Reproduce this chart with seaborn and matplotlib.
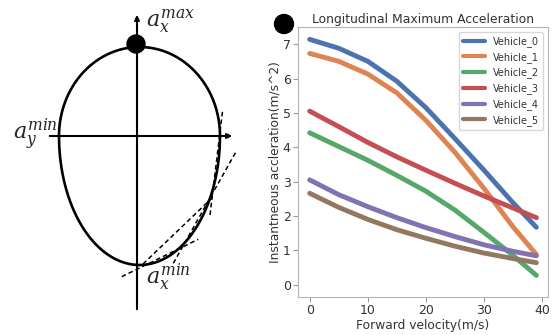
import numpy as np
import pandas as pd
import matplotlib
matplotlib.use("Agg")
import matplotlib.pyplot as plt
from matplotlib.patches import Circle
import seaborn as sns

# values
velocity = [0, 5, 10, 15, 20, 25, 30, 35, 39]
vehicle_0 = [7.14, 6.88, 6.50, 5.92, 5.15, 4.25, 3.33, 2.38, 1.67]
vehicle_1 = [6.73, 6.50, 6.13, 5.58, 4.78, 3.85, 2.80, 1.68, 0.88]
vehicle_2 = [4.42, 4.02, 3.62, 3.18, 2.72, 2.17, 1.52, 0.85, 0.27]
vehicle_3 = [5.05, 4.60, 4.14, 3.72, 3.33, 2.95, 2.58, 2.23, 1.95]
vehicle_4 = [3.05, 2.62, 2.27, 1.95, 1.66, 1.40, 1.16, 0.97, 0.84]
vehicle_5 = [2.66, 2.25, 1.90, 1.60, 1.35, 1.12, 0.92, 0.76, 0.64]
names = ["Vehicle_0", "Vehicle_1", "Vehicle_2", "Vehicle_3", "Vehicle_4", "Vehicle_5"]
series = [vehicle_0, vehicle_1, vehicle_2, vehicle_3, vehicle_4, vehicle_5]

df = pd.concat([pd.DataFrame({"v": velocity, "acc": s, "name": n})
                for n, s in zip(names, series)])

sns.set_theme(style="ticks", palette="deep")
plt.rcParams["font.family"] = ["DejaVu Sans"]
plt.rcParams["mathtext.fontset"] = "dejavuserif"
plt.rcParams["axes.edgecolor"] = "0.7"
plt.rcParams["xtick.color"] = "0.6"
plt.rcParams["ytick.color"] = "0.6"
plt.rcParams["xtick.labelcolor"] = "0.2"
plt.rcParams["ytick.labelcolor"] = "0.2"

fig = plt.figure(figsize=(5.57, 3.35), dpi=100)

# left sketch of the acceleration envelope, in pixel coords
ax0 = fig.add_axes([0, 0, 1, 1])
ax0.set_xlim(0, 557)
ax0.set_ylim(335, 0)
ax0.axis("off")

cx, cy = 137, 136
a, b_top, b_bot = 80.5, 89, 129
t = np.linspace(0, np.pi, 200)
ax0.plot(cx + 2.5 + a * np.cos(t), cy - b_top * np.sin(t), color="black", lw=1.9)
ax0.plot(cx + 2.5 + a * np.cos(t), cy + b_bot * np.sin(t), color="black", lw=1.9)
arrow = dict(arrowstyle="-|>", color="black", lw=1.5, mutation_scale=7)
ax0.annotate("", xy=(cx, 12), xytext=(cx, 312), arrowprops=arrow)
ax0.annotate("", xy=(235, cy), xytext=(47, cy), arrowprops=arrow)
for (x0, y0), (x1, y1) in [((121.7, 276.7), (198.3, 239.3)),
                           ((173.3, 263.3), (236, 151.7)),
                           ((210, 215), (222.7, 110)),
                           ((143, 264), (212, 198))]:
    ax0.plot([x0, x1], [y0, y1], color="black", lw=1.1, ls=(0, (3, 2)))
ax0.add_patch(Circle((136, 44), 9, color="black"))
ax0.add_patch(Circle((284, 24), 9.5, color="black"))
ax0.text(146, 26, r"$a_x^{max}$", fontsize=16, va="baseline")
ax0.text(13, 139, r"$a_y^{min}$", fontsize=16, va="baseline")
ax0.text(146, 284, r"$a_x^{min}$", fontsize=16, va="baseline")

# right: longitudinal acceleration curves
ax = fig.add_axes([0.5356, 0.1143, 0.4477, 0.8042])
sns.lineplot(data=df, x="v", y="acc", hue="name", lw=3.5, ax=ax)
ax.set_xlim(-1.95, 40.95)
ax.set_ylim(-0.35, 7.49)
ax.set_xticks([0, 10, 20, 30, 40])
ax.set_yticks(range(8))
ax.tick_params(labelsize=9, length=3.5, width=0.8, pad=2)
for s in ax.spines.values():
    s.set_visible(True)
    s.set_linewidth(0.8)
ax.set_title("Longitudinal Maximum Acceleration", fontsize=8.9, pad=3, color="0.2")
ax.set_xlabel("Forward velocity(m/s)", fontsize=8.8, labelpad=1, color="0.2")
ax.set_ylabel("Instantneous accleration(m/s^2)", fontsize=8.8, labelpad=0.5, color="0.2")
leg = ax.legend(loc="upper right", fontsize=7, handlelength=2.3, frameon=True)
for line in leg.get_lines():
    line.set_linewidth(3)
for txt in leg.get_texts():
    txt.set_color("0.2")

fig.savefig("out.png", dpi=100)
